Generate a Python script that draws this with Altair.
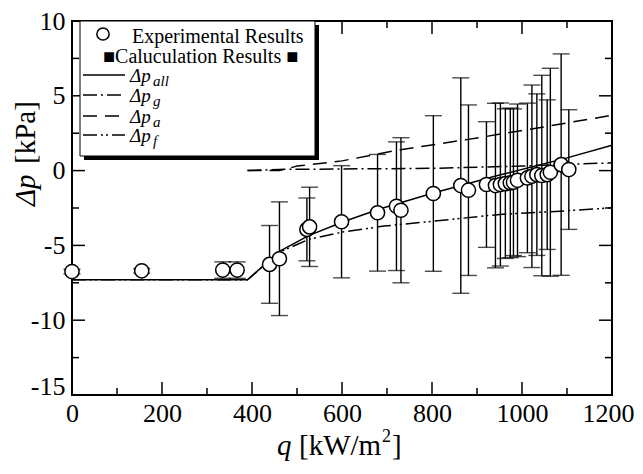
import altair as alt
import pandas as pd

# ---------------- data ----------------
q_exp = [0, 155, 335, 367, 439, 461, 522, 528, 599, 679, 721, 731, 803, 864, 881,
         921, 941, 952, 963, 974, 981, 990, 1012, 1022, 1033, 1044, 1056, 1063, 1087, 1104]
dp_exp = [-6.75, -6.7, -6.65, -6.65, -6.27, -5.89, -3.93, -3.76, -3.42, -2.82, -2.38, -2.65,
          -1.53, -1.0, -1.31, -0.93, -1.0, -0.93, -0.87, -0.82, -0.78, -0.65, -0.49, -0.38,
          -0.27, -0.33, -0.27, -0.11, 0.4, 0.07]
err_exp = [0.15, 0.15, 0.55, 0.55, 2.6, 3.8, 2.1, 2.65, 3.75, 3.9, 4.3, 4.85, 5.2, 7.2, 5.7,
           4.2, 5.5, 5.45, 5.0, 5.0, 4.9, 5.1, 5.0, 6.1, 5.4, 6.7, 5.0, 6.95, 7.4, 4.0]

q_all = [0, 390, 461, 526, 600, 680, 730, 803, 950, 1100, 1200]
dp_all = [-7.3, -7.3, -5.4, -4.35, -3.45, -2.6, -2.15, -1.5, -0.3, 0.85, 1.7]

q_g = [390, 460, 800, 1000, 1200]
dp_g = [0.0, 0.08, 0.15, 0.3, 0.52]

q_a = [390, 461, 500, 600, 730, 877, 1011, 1200]
dp_a = [0.0, 0.0, 0.3, 0.65, 1.4, 2.07, 2.73, 3.7]

q_f = [0, 390, 461, 526, 600, 693, 803, 951, 1085, 1200]
dp_f = [-7.3, -7.3, -5.45, -4.6, -4.11, -3.71, -3.38, -2.93, -2.71, -2.49]

x_major = [0, 200, 400, 600, 800, 1000, 1200]
x_minor = [100, 300, 500, 700, 900, 1100]
y_major = [-15, -10, -5, 0, 5, 10]
y_minor = [-12.5, -7.5, -2.5, 2.5, 7.5]

# ---------------- styling ----------------
W, H = 540, 374
FONT = "Liberation Serif"
MAJ, MIN = 13, 7
xs = alt.Scale(domain=[0, 1200], nice=False, zero=False)
ys = alt.Scale(domain=[-15, 10], nice=False, zero=False)

exp = pd.DataFrame({"q": q_exp, "dp": dp_exp, "err": err_exp})
exp["lo"] = exp["dp"] - exp["err"]
exp["hi"] = exp["dp"] + exp["err"]

one = pd.DataFrame({"k": [0]})

xaxis = alt.Axis(values=x_major, labelExpr="'' + datum.value", ticks=False, domain=False,
                 grid=False, labelFont=FONT, labelFontSize=26, labelPadding=5,
                 labelColor="black", title=None, labelFlush=False, labelOverlap=False,
                 labelOffset={"condition": {"test": "datum.value == 1200", "value": -4}, "value": 0})
yaxis = alt.Axis(values=y_major, labelExpr="'' + datum.value", ticks=False, domain=False,
                 grid=False, labelFont=FONT, labelFontSize=26, labelPadding=7,
                 labelColor="black", title=None, labelOverlap=False,
                 labelOffset={"condition": {"test": "datum.value == -15", "value": -9}, "value": 0})


def X(field):
    return alt.X(field, scale=xs, axis=xaxis)


def Y(field):
    return alt.Y(field, scale=ys, axis=yaxis)


# error bars
bars = alt.Chart(exp).mark_rule(color="black", strokeWidth=1.4).encode(
    x=X("q:Q"), y=Y("lo:Q"), y2="hi:Q")
cap_lo = alt.Chart(exp).mark_tick(color="black", orient="horizontal", size=17, thickness=1.4).encode(
    x=X("q:Q"), y=Y("lo:Q"))
cap_hi = alt.Chart(exp).mark_tick(color="black", orient="horizontal", size=17, thickness=1.4).encode(
    x=X("q:Q"), y=Y("hi:Q"))


def curve(qv, dv, dash):
    df = pd.DataFrame({"q": qv, "dp": dv})
    kw = dict(color="black", strokeWidth=1.5)
    if dash:
        kw["strokeDash"] = dash
    return alt.Chart(df).mark_line(**kw).encode(x=X("q:Q"), y=Y("dp:Q"), order="q:Q")


DASH_G = [14, 4, 2, 4]
DASH_A = [14, 8]
DASH_F = [14, 4, 2, 3, 2, 4]

c_all = curve(q_all, dp_all, None)
c_g = curve(q_g, dp_g, DASH_G)
c_a = curve(q_a, dp_a, DASH_A)
c_f = curve(q_f, dp_f, DASH_F)

pts = alt.Chart(exp).mark_point(shape="circle", filled=True, fill="white", stroke="black",
                                strokeWidth=1.5, size=200, opacity=1).encode(
    x=X("q:Q"), y=Y("dp:Q"))


# inward ticks on all four sides
def xticks(vals, length, top):
    df = pd.DataFrame({"q": vals})
    y0, y1 = (0, length) if top else (H, H - length)
    return alt.Chart(df).mark_rule(color="black", strokeWidth=1.5).encode(
        x=X("q:Q"), y=alt.value(y0), y2=alt.value(y1))


def yticks(vals, length, right):
    df = pd.DataFrame({"dp": vals})
    x0, x1 = (W, W - length) if right else (0, length)
    return alt.Chart(df).mark_rule(color="black", strokeWidth=1.5).encode(
        y=Y("dp:Q"), x=alt.value(x0), x2=alt.value(x1))


ticks = [xticks(x_major, MAJ, False), xticks(x_minor, MIN, False),
         xticks(x_major, MAJ, True), xticks(x_minor, MIN, True),
         yticks(y_major, MAJ, False), yticks(y_minor, MIN, False),
         yticks(y_major, MAJ, True), yticks(y_minor, MIN, True)]


def txt(s, x, y, size, italic=False, align="left", angle=0):
    kw = dict(font=FONT, fontSize=size, align=align, baseline="alphabetic", color="black")
    if italic:
        kw["fontStyle"] = "italic"
    if angle:
        kw["angle"] = angle
    return alt.Chart(one).mark_text(**kw).encode(x=alt.value(x), y=alt.value(y), text=alt.value(s))


# legend box with shadow
LX0, LX1, LY0, LY1 = 8, 243, 0, 135
shadow = alt.Chart(one).mark_rect(color="black").encode(
    x=alt.value(LX0 + 4), x2=alt.value(LX1 + 4), y=alt.value(LY0 + 4), y2=alt.value(LY1 + 4))
box = alt.Chart(one).mark_rect(fill="white", stroke="black", strokeWidth=1).encode(
    x=alt.value(LX0), x2=alt.value(LX1), y=alt.value(LY0), y2=alt.value(LY1))
leg_circle = alt.Chart(one).mark_point(shape="circle", filled=True, fill="white", stroke="black",
                                       strokeWidth=1.5, size=150, opacity=1).encode(
    x=alt.value(31), y=alt.value(13))

legend = [shadow, box, leg_circle,
          txt("Experimental Results", 60, 22, 20),
          txt("\u25a0Caluculation Results \u25a0", 31, 42, 20)]

entries = [("all", 54, None), ("g", 74, DASH_G), ("a", 95, DASH_A), ("f", 114, DASH_F)]
for sub, ly, dash in entries:
    kw = dict(color="black", strokeWidth=1.5)
    if dash:
        kw["strokeDash"] = dash
    legend.append(alt.Chart(one).mark_rule(**kw).encode(
        x=alt.value(11), x2=alt.value(53), y=alt.value(ly)))
    legend.append(txt("\u0394p", 58, ly + 7, 19, italic=True))
    legend.append(txt(sub, 81, ly + 11, 15, italic=True))

# axis titles
titles = [
    txt("\u0394p", -37, 185, 29, italic=True, angle=270),
    txt("[kPa]", -37, 143, 29, angle=270),
    txt("q", 205, 434, 29, italic=True),
    txt("[kW/m", 227, 434, 29),
    txt("2", 310, 421, 18),
    txt("]", 320, 434, 29),
]

chart = alt.layer(
    bars, cap_lo, cap_hi, c_f, c_g, c_a, c_all, pts, *ticks, *legend, *titles
).properties(
    width=W, height=H,
    autosize=alt.AutoSizeParams(type="none"),
    padding={"left": 64, "top": 13, "right": 23, "bottom": 79},
).configure_view(stroke="black", strokeWidth=2)

chart.save("out.html", embed_options={"renderer": "svg", "actions": False})
